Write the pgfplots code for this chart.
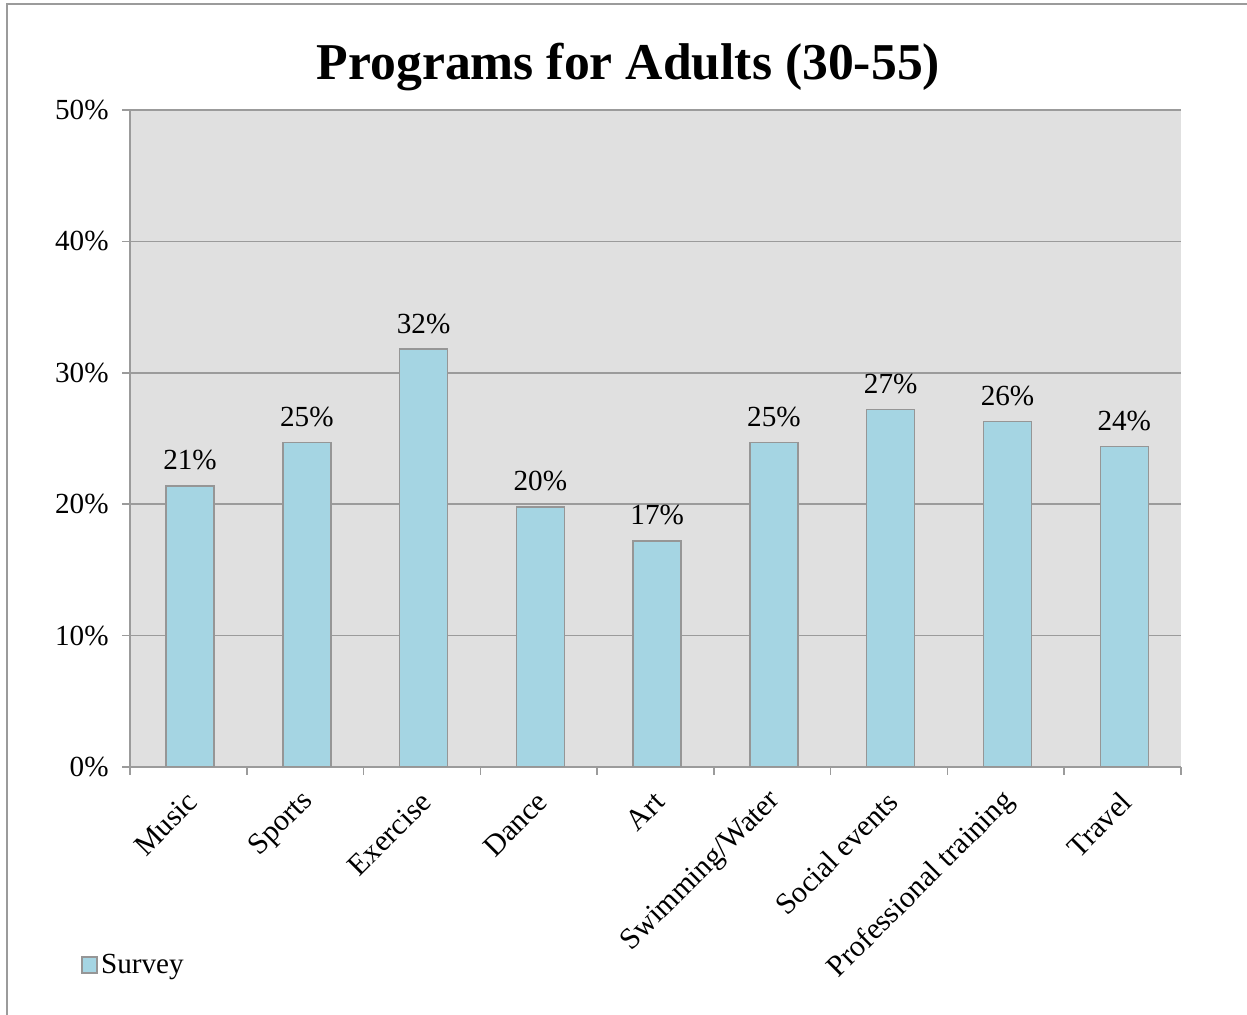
\documentclass[border=0pt]{standalone}
\usepackage{fontspec}
\setmainfont{Liberation Serif}
\usepackage{pgfplots}
\pgfplotsset{compat=1.18}
\definecolor{barblue}{RGB}{165,213,227}
\definecolor{baredge}{RGB}{150,150,150}
\definecolor{plotbg}{RGB}{224,224,224}
\definecolor{gridgray}{RGB}{155,155,155}
\begin{document}
\begin{tikzpicture}[x=1pt,y=1pt]
\useasboundingbox (0,0) rectangle (748.2,609);
\draw[color=gridgray, line width=0.9pt] (4.2,-20) -- (4.2,606.6) -- (770,606.6);
\begin{axis}[
 at={(78pt,148.8pt)}, anchor=south west,
 scale only axis, width=630.6pt, height=394.2pt,
 xmin=-0.5, xmax=8.5, ymin=0, ymax=50,
 axis x line*=bottom, axis y line*=left,
 axis line style={-, draw=gridgray, line width=0.9pt},
 axis background/.style={fill=plotbg},
 ymajorgrids, grid style={gridgray, line width=0.9pt},
 ytick={0,10,...,50},
 yticklabel={\pgfmathprintnumber{\tick}\%},
 /pgf/number format/assume math mode=true,
 xtick={0,...,8},
 xticklabels={Music,Sports,Exercise,Dance,Art,Swimming/Water,Social events,Professional training,Travel},
 minor xtick={-0.5,0.5,...,8.5},
 tick align=outside, major tick length=4.8pt, minor tick length=4.8pt,
 tick style={gridgray, line width=0.9pt},
 major x tick style={draw=none},
 tick label style={font=\fontsize{17.5}{20}\selectfont},
 yticklabel style={xshift=-4.5pt},
 xticklabel style={xshift=4.8pt, yshift=-10.8pt, rotate=45, anchor=east, font=\fontsize{18}{20}\selectfont},
 ybar, bar width=28.8pt, bar shift=1pt,
 nodes near coords={\pgfmathprintnumber[fixed,precision=0]{\pgfplotspointmeta}\%},
 every node near coord/.append style={font=\fontsize{17.5}{20}\selectfont, anchor=base, yshift=9.6pt},
 title={Programs for Adults (30-55)},
 title style={at={(0.4743,1.0305)}, anchor=base, font=\fontsize{31}{36}\selectfont\bfseries},
 legend style={at={(-0.0515,-0.301)}, anchor=west, draw=none, fill=none, font=\fontsize{17.5}{20}\selectfont},
 legend image code/.code={\draw[#1] (0pt,-4.8pt) rectangle (9pt,4.8pt);},
]
\addplot[fill=barblue, draw=baredge, line width=0.9pt] coordinates {
 (0,21.4) (1,24.7) (2,31.8) (3,19.8) (4,17.2) (5,24.7) (6,27.2) (7,26.3) (8,24.4)
};
\addlegendentry{Survey}
\end{axis}
\end{tikzpicture}
\end{document}
